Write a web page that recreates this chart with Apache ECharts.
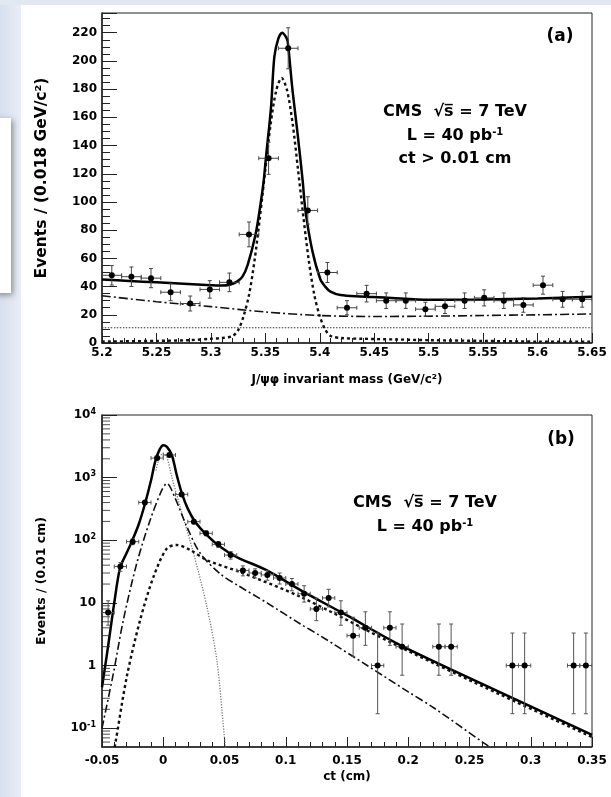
<!DOCTYPE html>
<html>
<head>
<meta charset="utf-8">
<script src="https://cdn.jsdelivr.net/npm/echarts@6/dist/echarts.min.js"></script>
<style>
  html, body { margin: 0; padding: 0; background: #fff; }
  #chart { width: 611px; height: 797px; }
</style>
</head>
<body>
<div id="chart"></div>
<script>
// (a) J/psi phi invariant mass, 0.018 GeV bins
var massX = [5.209, 5.227, 5.245, 5.263, 5.281, 5.299, 5.317, 5.335, 5.353, 5.371, 5.389, 5.407, 5.425,
  5.443, 5.461, 5.479, 5.497, 5.515, 5.533, 5.551, 5.569, 5.587, 5.605, 5.623, 5.641];
var massN = [48, 47, 46, 36, 28, 38, 43, 77, 131, 209, 94, 50, 25, 35, 30, 30, 24, 26, 30, 32, 30, 27, 41, 31, 31];
var massErr = [6.9, 6.9, 6.8, 6, 5.3, 6.2, 6.6, 8.8, 11.4, 14.5, 9.7, 7.1, 5, 5.9, 5.5, 5.5, 4.9, 5.1, 5.5, 5.7, 5.5, 5.2, 6.4, 5.6, 5.6];

// fit curves of (a)
var fitAX = [5.2, 5.225, 5.25, 5.275, 5.3, 5.31, 5.318, 5.324, 5.329, 5.334, 5.341, 5.3455, 5.3485, 5.3505,
  5.3552, 5.3583, 5.362, 5.3655, 5.369, 5.3705, 5.375, 5.3797, 5.3843, 5.3868, 5.393, 5.4006, 5.405, 5.4098,
  5.419, 5.437, 5.46, 5.5, 5.55, 5.6, 5.65];
var fitAY = [45, 44, 43, 42, 41, 40.7, 41.5, 43.5, 47, 56, 77, 98, 115, 131,
  167, 203, 216, 220, 217, 214, 179, 148, 115, 94, 66, 45, 40, 36.4,
  34, 33, 32.3, 30.6, 30.8, 31.6, 32.8];
var sigAX = [5.2, 5.25, 5.28, 5.3, 5.31, 5.32, 5.325, 5.33, 5.335, 5.34, 5.345, 5.35, 5.355, 5.36, 5.365,
  5.37, 5.375, 5.38, 5.385, 5.39, 5.395, 5.4, 5.405, 5.41, 5.42, 5.44, 5.47, 5.5, 5.55, 5.6, 5.65];
var sigAY = [1, 1.5, 2, 3, 3.5, 5, 9, 19, 34, 58, 89, 123, 156, 179, 188,
  179, 156, 123, 89, 58, 34, 19, 9.5, 5, 3.5, 3, 2.5, 2, 1.5, 1, 1];
var bkgAX = [5.2, 5.25, 5.3, 5.35, 5.4, 5.45, 5.5, 5.55, 5.6, 5.65];
var bkgAY = [33.5, 29.3, 25.8, 22, 19.5, 18.8, 19, 19.5, 20, 20.6];
var flatAX = [5.2, 5.65];
var flatAY = [10.8, 10.8];

// (b) ct, 0.01 cm bins
var ctX = [-0.045, -0.035, -0.025, -0.015, -0.005, 0.005, 0.015, 0.025, 0.035, 0.045, 0.055, 0.065, 0.075,
  0.085, 0.095, 0.105, 0.115, 0.125, 0.135, 0.145, 0.155, 0.165, 0.175, 0.185, 0.195, 0.225, 0.235,
  0.285, 0.295, 0.335, 0.345];
var ctN = [7, 38, 95, 400, 2050, 2300, 540, 198, 129, 86, 58, 33, 30, 28, 25, 20, 14, 8, 12, 7, 3, 4, 1, 4, 2, 2, 2, 1, 1, 1, 1];
var ctLo = [4.4, 32, 85, 380, 2005, 2252, 517, 184, 118, 77, 50, 27, 25, 23, 20, 15.6, 10.3, 5.2, 8.6, 4.4,
  1.4, 2.1, 0.17, 2.1, 0.7, 0.7, 0.7, 0.17, 0.17, 0.17, 0.17];
var ctHi = [10.8, 44, 105, 420, 2095, 2348, 563, 212, 140, 95, 66, 39, 35, 33, 30, 24.5, 18.8, 11.9, 16.5, 10.8,
  5.9, 7.2, 3.3, 7.2, 4.6, 4.6, 4.6, 3.3, 3.3, 3.3, 3.3];

// fit curves of (b)
var fitBX = [-0.05, -0.046, -0.0435, -0.04, -0.0353, -0.03, -0.0257, -0.02, -0.0148, -0.01, -0.0066, -0.003, 0,
  0.003, 0.007, 0.011, 0.0152, 0.02, 0.026, 0.0356, 0.0465, 0.06, 0.0847, 0.112, 0.15, 0.1938, 0.2756, 0.35];
var fitBY = [0.45, 1.5, 3.3, 10, 36, 62, 95, 180, 390, 900, 1800, 2800, 3300,
  3100, 2300, 1100, 560, 320, 198, 121, 79, 54, 33, 16, 6.3, 2.1, 0.37, 0.078];
var sigBX = [-0.041, -0.0394, -0.0298, -0.0189, -0.008, 0.0029, 0.011, 0.022, 0.0356, 0.0629, 0.112, 0.1938, 0.2756, 0.35];
var sigBY = [0.04, 0.053, 0.66, 5.3, 26, 74, 84, 70, 48, 31, 12.5, 1.95, 0.34, 0.072];
var bkgBX = [-0.05, -0.0407, -0.0326, -0.0216, -0.0107, -0.0012, 0.0029, 0.0097, 0.0193, 0.0302, 0.0465, 0.0615,
  0.0847, 0.112, 0.128, 0.1665, 0.2, 0.221, 0.2606, 0.27];
var bkgBY = [0.1, 0.75, 5.3, 43, 210, 630, 810, 470, 164, 62, 29, 18.7, 10, 4.6, 3.0, 1.0, 0.38, 0.21, 0.06, 0.045];
var promptBX = [-0.006, -0.003, 0, 0.003, 0.007, 0.0138, 0.0247, 0.0356, 0.0438, 0.0506, 0.052];
var promptBY = [1300, 2100, 2450, 2100, 1020, 343, 62, 8.7, 1.2, 0.054, 0.04];

// log axis labels and minor ticks
var logTickExp = [-1, 0, 1, 2, 3, 4];
var logTickText = ['{b|10}{s|-1}', '{b|1}', '{b|10}', '{b|10}{s|2}', '{b|10}{s|3}', '{b|10}{s|4}'];
var logMinorTicks = [0.06, 0.07, 0.08, 0.09, 0.2, 0.3, 0.4, 0.5, 0.6, 0.7, 0.8, 0.9, 2, 3, 4, 5, 6, 7, 8, 9,
  20, 30, 40, 50, 60, 70, 80, 90, 200, 300, 400, 500, 600, 700, 800, 900, 2000, 3000, 4000, 5000, 6000, 7000, 8000, 9000];

var FONT = '"DejaVu Sans", "Liberation Sans", Arial, sans-serif';
var CMS_TEXT = 'CMS  \u221as\u0305 = 7 TeV';

function pairs(xs, ys) {
  return xs.map(function (x, i) { return [x, ys[i]]; });
}

// data points with x and y error bars
function errBars(halfBin, color) {
  return function (params, api) {
    var x = api.value(0), y = api.value(1);
    var c = api.coord([x, y]);
    var l = api.coord([x - halfBin, y])[0];
    var r = api.coord([x + halfBin, y])[0];
    var lo = api.coord([x, api.value(2)])[1];
    var hi = api.coord([x, api.value(3)])[1];
    var st = { stroke: color, lineWidth: 1 };
    var cap = 2;
    return {
      type: 'group',
      children: [
        { type: 'line', shape: { x1: l, y1: c[1], x2: r, y2: c[1] }, style: st },
        { type: 'line', shape: { x1: c[0], y1: hi, x2: c[0], y2: lo }, style: st },
        { type: 'line', shape: { x1: l, y1: c[1] - cap, x2: l, y2: c[1] + cap }, style: st },
        { type: 'line', shape: { x1: r, y1: c[1] - cap, x2: r, y2: c[1] + cap }, style: st },
        { type: 'line', shape: { x1: c[0] - cap, y1: hi, x2: c[0] + cap, y2: hi }, style: st },
        { type: 'line', shape: { x1: c[0] - cap, y1: lo, x2: c[0] + cap, y2: lo }, style: st },
        { type: 'circle', shape: { cx: c[0], cy: c[1], r: 3 }, style: { fill: '#000' } }
      ]
    };
  };
}

function curve(name, data, axisIdx, style) {
  return {
    name: name,
    type: 'line',
    xAxisIndex: axisIdx,
    yAxisIndex: axisIdx,
    data: data,
    showSymbol: false,
    symbol: 'none',
    smooth: 0.3,
    clip: true,
    silent: true,
    lineStyle: style,
    z: 3
  };
}

function label(x, y, text, size) {
  return {
    type: 'text', x: x, y: y,
    style: { text: text, font: 'bold ' + size + 'px ' + FONT, fill: '#000', align: 'center', verticalAlign: 'middle', textAlign: 'center', textVerticalAlign: 'middle' }
  };
}

function lumiLabel(x, y) {
  return {
    type: 'text', x: x, y: y,
    style: {
      text: '{t|L = 40 pb}{s|-1}', align: 'center', verticalAlign: 'middle', textAlign: 'center', textVerticalAlign: 'middle',
      rich: {
        t: { fontFamily: FONT, fontWeight: 'bold', fontSize: 16, color: '#000', lineHeight: 18 },
        s: { fontFamily: FONT, fontWeight: 'bold', fontSize: 10, color: '#000', padding: [0, 0, 8, 0] }
      }
    }
  };
}

var labelStyle = { color: '#000', fontFamily: FONT, fontWeight: 'bold', fontSize: 12 };
var axisLine = { onZero: false, lineStyle: { color: '#222', width: 1.5 } };

var chart = echarts.init(document.getElementById('chart'));

var option = {
  animation: false,
  backgroundColor: '#fff',
  grid: [
    { left: 102, right: 19, top: 13, bottom: 454, show: true, borderColor: '#222', borderWidth: 1, outerBoundsMode: 'none' },
    { left: 102, right: 19, top: 415, bottom: 50, show: true, borderColor: '#222', borderWidth: 1, outerBoundsMode: 'none' }
  ],
  xAxis: [
    {
      gridIndex: 0, type: 'value', min: 5.2, max: 5.65, interval: 0.05,
      name: 'J/\u03c8\u03c6 invariant mass (GeV/c\u00b2)', nameLocation: 'middle', nameGap: 31,
      nameTextStyle: { color: '#000', fontFamily: FONT, fontWeight: 'bold', fontSize: 12 },
      axisLine: axisLine,
      axisTick: { inside: true, length: 10, lineStyle: { color: '#222' } },
      minorTick: { show: true, splitNumber: 5, length: 5, lineStyle: { color: '#222' } },
      axisLabel: Object.assign({ margin: 4 }, labelStyle),
      splitLine: { show: false }
    },
    {
      gridIndex: 1, type: 'value', min: -0.05, max: 0.35, interval: 0.05,
      name: 'ct (cm)', nameLocation: 'middle', nameGap: 24,
      nameTextStyle: { color: '#000', fontFamily: FONT, fontWeight: 'bold', fontSize: 12 },
      axisLine: axisLine,
      axisTick: { inside: true, length: 10, lineStyle: { color: '#222' } },
      minorTick: { show: true, splitNumber: 5, length: 5, lineStyle: { color: '#222' } },
      axisLabel: Object.assign({ margin: 8 }, labelStyle),
      splitLine: { show: false }
    }
  ],
  yAxis: [
    {
      gridIndex: 0, type: 'value', min: 0, max: 234, interval: 20,
      name: 'Events / (0.018 GeV/c\u00b2)', nameLocation: 'middle', nameGap: 52, nameRotate: 90,
      nameTextStyle: { color: '#000', fontFamily: FONT, fontWeight: 'bold', fontSize: 15.5 },
      axisLine: axisLine,
      axisTick: { inside: true, length: 15, lineStyle: { color: '#222' } },
      minorTick: { show: true, splitNumber: 4, length: 8, lineStyle: { color: '#222' } },
      axisLabel: Object.assign({ margin: 5, showMaxLabel: false }, labelStyle),
      splitLine: { show: false }
    },
    {
      gridIndex: 1, type: 'log', logBase: 10, min: 0.05, max: 10000,
      name: 'Events / (0.01 cm)', nameLocation: 'middle', nameGap: 54, nameRotate: 90,
      nameTextStyle: { color: '#000', fontFamily: FONT, fontWeight: 'bold', fontSize: 12.5 },
      axisLine: axisLine,
      axisTick: { inside: true, length: 15, lineStyle: { color: '#222' } },
      minorTick: { show: false },
      axisLabel: {
        margin: 6,
        showMinLabel: false,
        formatter: function (v) {
          var e = Math.log(v) / Math.LN10;
          var k = logTickExp.indexOf(Math.round(e));
          if (Math.abs(e - Math.round(e)) > 0.01 || k < 0) return '';
          return logTickText[k];
        },
        rich: {
          b: { color: '#000', fontFamily: FONT, fontWeight: 'bold', fontSize: 12, lineHeight: 14 },
          s: { color: '#000', fontFamily: FONT, fontWeight: 'bold', fontSize: 8, padding: [0, 0, 7, 0] }
        }
      },
      splitLine: { show: false }
    }
  ],
  series: [
    curve('bkg flat', pairs(flatAX, flatAY), 0, { color: '#333', width: 1.2, type: [1.5, 1.5] }),
    curve('bkg', pairs(bkgAX, bkgAY), 0, { color: '#111', width: 1.6, type: [9, 3, 2, 3] }),
    curve('signal', pairs(sigAX, sigAY), 0, { color: '#111', width: 2.4, type: [3, 3] }),
    curve('fit', pairs(fitAX, fitAY), 0, { color: '#000', width: 2.5 }),
    {
      type: 'custom', xAxisIndex: 0, yAxisIndex: 0, clip: true, silent: true, z: 5,
      renderItem: errBars(0.009, '#444'),
      encode: { x: 0, y: 1 },
      data: massX.map(function (x, i) { return [x, massN[i], massN[i] - massErr[i], massN[i] + massErr[i]]; })
    },
    curve('prompt', pairs(promptBX, promptBY), 1, { color: '#777', width: 1.3, type: [1.2, 1.5] }),
    curve('bkg', pairs(bkgBX, bkgBY), 1, { color: '#111', width: 1.6, type: [8, 3, 2, 3] }),
    curve('signal', pairs(sigBX, sigBY), 1, { color: '#111', width: 2.4, type: [3, 3] }),
    curve('fit', pairs(fitBX, fitBY), 1, { color: '#000', width: 2.5 }),
    {
      type: 'custom', xAxisIndex: 1, yAxisIndex: 1, clip: true, silent: true, z: 5,
      renderItem: errBars(0.005, '#555'),
      encode: { x: 0, y: 1 },
      data: ctX.map(function (x, i) { return [x, ctN[i], ctLo[i], ctHi[i]]; })
    },
    {
      // minor ticks of the log axis at 2..9 x 10^k
      type: 'scatter', xAxisIndex: 1, yAxisIndex: 1, silent: true, z: 4, clip: false,
      symbol: 'rect', symbolSize: [8, 1], symbolOffset: [4, 0],
      itemStyle: { color: '#222' },
      data: logMinorTicks.map(function (v) { return [-0.05, v]; })
    }
  ],
  graphic: [
    {
      type: 'rect', z: -10, shape: { x: 0, y: 0, width: 21, height: 797 },
      style: { fill: new echarts.graphic.LinearGradient(0, 0, 1, 0, [{ offset: 0, color: '#d8e0ee' }, { offset: 1, color: '#e8edf6' }]) }
    },
    { type: 'rect', z: -10, shape: { x: 0, y: 0, width: 611, height: 5 }, style: { fill: '#e2e8f2' } },
    {
      type: 'rect', z: -9, shape: { x: -6, y: 118, width: 17, height: 175 },
      style: { fill: '#fff', shadowBlur: 6, shadowOffsetX: 2, shadowOffsetY: 2, shadowColor: 'rgba(0,0,0,0.4)' }
    },
    label(560, 37, '(a)', 17),
    label(561, 440, '(b)', 17),
    label(455, 112, CMS_TEXT, 16),
    lumiLabel(455, 136),
    label(455, 159, 'ct > 0.01 cm', 16),
    label(425, 503, CMS_TEXT, 16),
    lumiLabel(425, 527)
  ]
};

chart.setOption(option);
</script>
</body>
</html>
